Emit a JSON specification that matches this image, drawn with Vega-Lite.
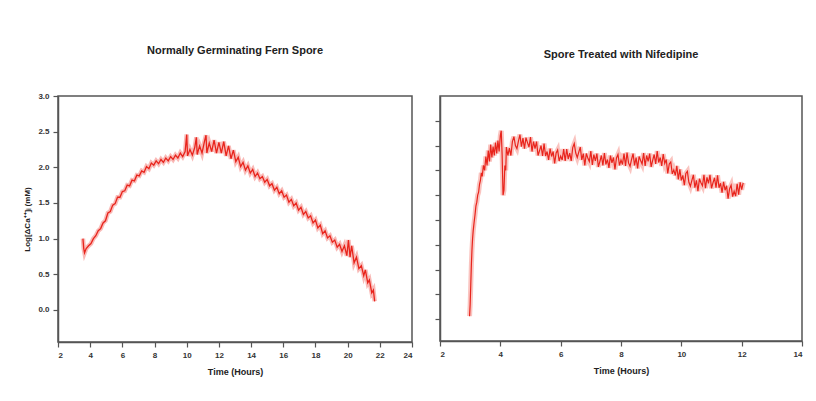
{
  "$schema": "https://vega.github.io/schema/vega-lite/v6.json",
  "background": "white",
  "padding": {"left": 23, "top": 44, "right": 8, "bottom": 5},
  "datasets": {
    "normal": [
      {"t":3.55,"v":1.00},{"t":3.60,"v":0.86},{"t":3.65,"v":0.80},{"t":3.75,"v":0.86},{"t":3.90,"v":0.90},{"t":4.05,"v":0.93},{"t":4.20,"v":1.00},{"t":4.35,"v":1.04},{"t":4.50,"v":1.11},{"t":4.65,"v":1.14},{"t":4.80,"v":1.22},{"t":4.95,"v":1.25},{"t":5.10,"v":1.36},{"t":5.25,"v":1.38},{"t":5.40,"v":1.47},{"t":5.55,"v":1.49},{"t":5.70,"v":1.58},{"t":5.85,"v":1.58},{"t":6.00,"v":1.66},{"t":6.15,"v":1.67},{"t":6.30,"v":1.75},{"t":6.45,"v":1.74},{"t":6.60,"v":1.82},{"t":6.75,"v":1.81},{"t":6.90,"v":1.89},{"t":7.05,"v":1.88},{"t":7.20,"v":1.95},{"t":7.35,"v":1.93},{"t":7.50,"v":2.01},{"t":7.65,"v":1.98},{"t":7.80,"v":2.06},{"t":7.95,"v":2.03},{"t":8.10,"v":2.09},{"t":8.25,"v":2.05},{"t":8.40,"v":2.11},{"t":8.55,"v":2.07},{"t":8.70,"v":2.13},{"t":8.85,"v":2.09},{"t":9.00,"v":2.15},{"t":9.15,"v":2.11},{"t":9.30,"v":2.17},{"t":9.45,"v":2.13},{"t":9.60,"v":2.20},{"t":9.75,"v":2.15},{"t":9.90,"v":2.22},{"t":10.00,"v":2.46},{"t":10.05,"v":2.16},{"t":10.20,"v":2.25},{"t":10.35,"v":2.17},{"t":10.50,"v":2.28},{"t":10.60,"v":2.42},{"t":10.65,"v":2.18},{"t":10.80,"v":2.30},{"t":10.95,"v":2.20},{"t":11.10,"v":2.36},{"t":11.20,"v":2.45},{"t":11.25,"v":2.20},{"t":11.40,"v":2.34},{"t":11.55,"v":2.22},{"t":11.70,"v":2.38},{"t":11.85,"v":2.20},{"t":12.00,"v":2.35},{"t":12.15,"v":2.20},{"t":12.30,"v":2.36},{"t":12.45,"v":2.16},{"t":12.60,"v":2.30},{"t":12.75,"v":2.12},{"t":12.90,"v":2.24},{"t":13.05,"v":2.08},{"t":13.20,"v":2.14},{"t":13.35,"v":2.01},{"t":13.50,"v":2.07},{"t":13.65,"v":1.96},{"t":13.80,"v":2.02},{"t":13.95,"v":1.92},{"t":14.10,"v":1.97},{"t":14.25,"v":1.87},{"t":14.40,"v":1.92},{"t":14.55,"v":1.84},{"t":14.70,"v":1.87},{"t":14.85,"v":1.79},{"t":15.00,"v":1.83},{"t":15.15,"v":1.74},{"t":15.30,"v":1.77},{"t":15.45,"v":1.68},{"t":15.60,"v":1.72},{"t":15.75,"v":1.63},{"t":15.90,"v":1.67},{"t":16.05,"v":1.58},{"t":16.20,"v":1.61},{"t":16.35,"v":1.51},{"t":16.50,"v":1.55},{"t":16.65,"v":1.46},{"t":16.80,"v":1.50},{"t":16.95,"v":1.40},{"t":17.10,"v":1.44},{"t":17.25,"v":1.34},{"t":17.40,"v":1.38},{"t":17.55,"v":1.29},{"t":17.70,"v":1.32},{"t":17.85,"v":1.22},{"t":18.00,"v":1.26},{"t":18.15,"v":1.15},{"t":18.30,"v":1.19},{"t":18.45,"v":1.07},{"t":18.60,"v":1.11},{"t":18.75,"v":1.01},{"t":18.90,"v":1.04},{"t":19.05,"v":0.95},{"t":19.20,"v":0.98},{"t":19.35,"v":0.88},{"t":19.50,"v":0.92},{"t":19.65,"v":0.82},{"t":19.80,"v":0.90},{"t":19.95,"v":0.76},{"t":20.05,"v":0.98},{"t":20.15,"v":0.74},{"t":20.25,"v":0.90},{"t":20.40,"v":0.66},{"t":20.55,"v":0.74},{"t":20.70,"v":0.58},{"t":20.85,"v":0.62},{"t":21.00,"v":0.48},{"t":21.10,"v":0.56},{"t":21.25,"v":0.38},{"t":21.35,"v":0.42},{"t":21.50,"v":0.24},{"t":21.60,"v":0.28},{"t":21.68,"v":0.12}
    ],
    "nifedipine": [
      {"t":2.98,"v":0.06},{"t":3.00,"v":0.30},{"t":3.02,"v":0.70},{"t":3.04,"v":1.10},{"t":3.06,"v":1.40},{"t":3.08,"v":1.62},{"t":3.10,"v":1.78},{"t":3.13,"v":1.95},{"t":3.16,"v":2.10},{"t":3.19,"v":2.28},{"t":3.22,"v":2.36},{"t":3.25,"v":2.50},{"t":3.28,"v":2.56},{"t":3.31,"v":2.72},{"t":3.34,"v":2.80},{"t":3.37,"v":2.95},{"t":3.40,"v":2.88},{"t":3.44,"v":3.10},{"t":3.48,"v":3.00},{"t":3.52,"v":3.28},{"t":3.56,"v":3.10},{"t":3.60,"v":3.40},{"t":3.64,"v":3.18},{"t":3.68,"v":3.52},{"t":3.72,"v":3.26},{"t":3.76,"v":3.48},{"t":3.80,"v":3.30},{"t":3.84,"v":3.56},{"t":3.88,"v":3.34},{"t":3.92,"v":3.60},{"t":3.96,"v":3.38},{"t":4.00,"v":3.70},{"t":4.03,"v":3.80},{"t":4.06,"v":3.30},{"t":4.09,"v":2.50},{"t":4.12,"v":2.60},{"t":4.15,"v":3.10},{"t":4.18,"v":3.00},
      {"t":4.20,"v":3.47},{"t":4.25,"v":3.30},{"t":4.30,"v":3.45},{"t":4.35,"v":3.30},{"t":4.40,"v":3.58},{"t":4.45,"v":3.68},{"t":4.50,"v":3.50},{"t":4.55,"v":3.44},{"t":4.60,"v":3.59},{"t":4.65,"v":3.72},{"t":4.70,"v":3.48},{"t":4.75,"v":3.65},{"t":4.80,"v":3.44},{"t":4.85,"v":3.66},{"t":4.90,"v":3.56},{"t":4.95,"v":3.47},{"t":5.00,"v":3.67},{"t":5.05,"v":3.38},{"t":5.10,"v":3.58},{"t":5.15,"v":3.44},{"t":5.20,"v":3.58},{"t":5.25,"v":3.30},{"t":5.30,"v":3.40},{"t":5.35,"v":3.50},{"t":5.40,"v":3.29},{"t":5.45,"v":3.54},{"t":5.50,"v":3.29},{"t":5.55,"v":3.38},{"t":5.60,"v":3.21},{"t":5.65,"v":3.44},{"t":5.70,"v":3.28},{"t":5.75,"v":3.38},{"t":5.80,"v":3.14},{"t":5.85,"v":3.35},{"t":5.90,"v":3.41},{"t":5.95,"v":3.19},{"t":6.00,"v":3.29},{"t":6.05,"v":3.21},{"t":6.10,"v":3.43},{"t":6.15,"v":3.19},
      {"t":6.20,"v":3.43},{"t":6.25,"v":3.23},{"t":6.30,"v":3.35},{"t":6.35,"v":3.19},{"t":6.40,"v":3.46},{"t":6.45,"v":3.54},{"t":6.50,"v":3.35},{"t":6.55,"v":3.26},{"t":6.60,"v":3.37},{"t":6.65,"v":3.47},{"t":6.70,"v":3.21},{"t":6.75,"v":3.34},{"t":6.80,"v":3.10},{"t":6.85,"v":3.34},{"t":6.90,"v":3.25},{"t":6.95,"v":3.18},{"t":7.00,"v":3.39},{"t":7.05,"v":3.11},{"t":7.10,"v":3.32},{"t":7.15,"v":3.19},{"t":7.20,"v":3.34},{"t":7.25,"v":3.07},{"t":7.30,"v":3.18},{"t":7.35,"v":3.30},{"t":7.40,"v":3.10},{"t":7.45,"v":3.35},{"t":7.50,"v":3.12},{"t":7.55,"v":3.22},{"t":7.60,"v":3.05},{"t":7.65,"v":3.30},{"t":7.70,"v":3.15},{"t":7.75,"v":3.26},{"t":7.80,"v":3.02},{"t":7.85,"v":3.25},{"t":7.90,"v":3.32},{"t":7.95,"v":3.10},{"t":8.00,"v":3.21},{"t":8.05,"v":3.12},{"t":8.10,"v":3.34},{"t":8.15,"v":3.09},
      {"t":8.20,"v":3.36},{"t":8.25,"v":3.15},{"t":8.30,"v":3.08},{"t":8.35,"v":3.22},{"t":8.40,"v":3.34},{"t":8.45,"v":3.10},{"t":8.50,"v":3.26},{"t":8.55,"v":3.04},{"t":8.60,"v":3.28},{"t":8.65,"v":3.20},{"t":8.70,"v":3.13},{"t":8.75,"v":3.35},{"t":8.80,"v":3.09},{"t":8.85,"v":3.30},{"t":8.90,"v":3.18},{"t":8.95,"v":3.34},{"t":9.00,"v":3.07},{"t":9.05,"v":3.20},{"t":9.10,"v":3.32},{"t":9.15,"v":3.13},{"t":9.20,"v":3.39},{"t":9.25,"v":3.16},{"t":9.30,"v":3.26},{"t":9.35,"v":3.09},{"t":9.40,"v":3.33},{"t":9.45,"v":3.14},{"t":9.50,"v":3.22},{"t":9.55,"v":2.94},{"t":9.60,"v":3.13},{"t":9.65,"v":3.17},{"t":9.70,"v":2.93},{"t":9.75,"v":3.01},{"t":9.80,"v":2.90},{"t":9.85,"v":3.09},{"t":9.90,"v":2.82},{"t":9.95,"v":3.02},
      {"t":10.00,"v":2.80},{"t":10.05,"v":2.90},{"t":10.10,"v":2.70},{"t":10.15,"v":2.94},{"t":10.20,"v":2.98},{"t":10.25,"v":2.76},{"t":10.30,"v":2.68},{"t":10.35,"v":2.80},{"t":10.40,"v":2.91},{"t":10.45,"v":2.65},{"t":10.50,"v":2.80},{"t":10.55,"v":2.58},{"t":10.60,"v":2.83},{"t":10.65,"v":2.75},{"t":10.70,"v":2.69},{"t":10.75,"v":2.91},{"t":10.80,"v":2.64},{"t":10.85,"v":2.86},{"t":10.90,"v":2.74},{"t":10.95,"v":2.91},{"t":11.00,"v":2.64},{"t":11.05,"v":2.75},{"t":11.10,"v":2.85},{"t":11.15,"v":2.65},{"t":11.20,"v":2.90},{"t":11.25,"v":2.65},{"t":11.30,"v":2.74},{"t":11.35,"v":2.55},{"t":11.40,"v":2.77},{"t":11.45,"v":2.60},{"t":11.50,"v":2.69},{"t":11.55,"v":2.43},{"t":11.60,"v":2.63},{"t":11.65,"v":2.70},{"t":11.70,"v":2.47},{"t":11.75,"v":2.58},{"t":11.80,"v":2.48},{"t":11.85,"v":2.73},{"t":11.90,"v":2.51},{"t":11.95,"v":2.76},{"t":12.00,"v":2.61},{"t":12.05,"v":2.75}
    ]
  },
  "spacing": 28,
  "bounds": "flush",
  "hconcat": [
    {
      "title": "Normally Germinating Fern Spore",
      "width": 354,
      "height": 246,
      "data": {"name": "normal"},
      "encoding": {
        "x": {"field": "t", "type": "quantitative", "title": "Time (Hours)",
              "scale": {"domain": [2, 24], "nice": false, "zero": false},
              "axis": {"values": [2,4,6,8,10,12,14,16,18,20,22,24]}},
        "y": {"field": "v", "type": "quantitative", "title": "Log[ΔCa⁺⁺]ᵢ (mM)",
              "scale": {"domain": [-0.45, 3.0], "nice": false, "zero": false},
              "axis": {"values": [0,0.5,1,1.5,2,2.5,3], "format": ".1f"}}
      },
      "layer": [
        {"mark": {"type": "line", "color": "#ee3a30", "strokeWidth": 4.5, "opacity": 0.35, "clip": true}},
        {"mark": {"type": "line", "color": "#e8241c", "strokeWidth": 1.3, "clip": true}}
      ]
    },
    {
      "title": "Spore Treated with Nifedipine",
      "width": 362,
      "height": 245,
      "data": {"name": "nifedipine"},
      "encoding": {
        "x": {"field": "t", "type": "quantitative", "title": "Time (Hours)",
              "scale": {"domain": [2, 14], "nice": false, "zero": false},
              "axis": {"values": [2,4,6,8,10,12,14]}},
        "y": {"field": "v", "type": "quantitative", "title": null,
              "scale": {"domain": [-0.44, 4.5], "nice": false, "zero": false},
              "axis": {"values": [0,0.5,1,1.5,2,2.5,3,3.5,4], "labels": false}}
      },
      "layer": [
        {"mark": {"type": "line", "color": "#ee3a30", "strokeWidth": 5, "opacity": 0.3, "clip": true}},
        {"mark": {"type": "line", "color": "#e8241c", "strokeWidth": 1.2, "clip": true}}
      ]
    }
  ],
  "config": {
    "font": "Liberation Sans",
    "view": {"stroke": "#555555", "strokeWidth": 1.5},
    "axis": {
      "grid": false,
      "domain": true,
      "domainColor": "#555555",
      "domainWidth": 1.5,
      "tickColor": "#555555",
      "tickWidth": 1.2,
      "tickSize": 5,
      "labelFont": "Liberation Sans",
      "labelFontSize": 8,
      "labelFontWeight": "bold",
      "labelColor": "#333333",
      "labelPadding": 4,
      "titleFont": "Liberation Sans",
      "titleFontSize": 9,
      "titleFontWeight": "bold",
      "titleColor": "#222222"
    },
    "axisY": {"titleFontSize": 8, "titlePadding": 6},
    "axisX": {"titlePadding": 8},
    "title": {
      "font": "Liberation Sans",
      "fontSize": 11,
      "fontWeight": "bold",
      "color": "#222222",
      "offset": 36,
      "anchor": "middle"
    }
  }
}
